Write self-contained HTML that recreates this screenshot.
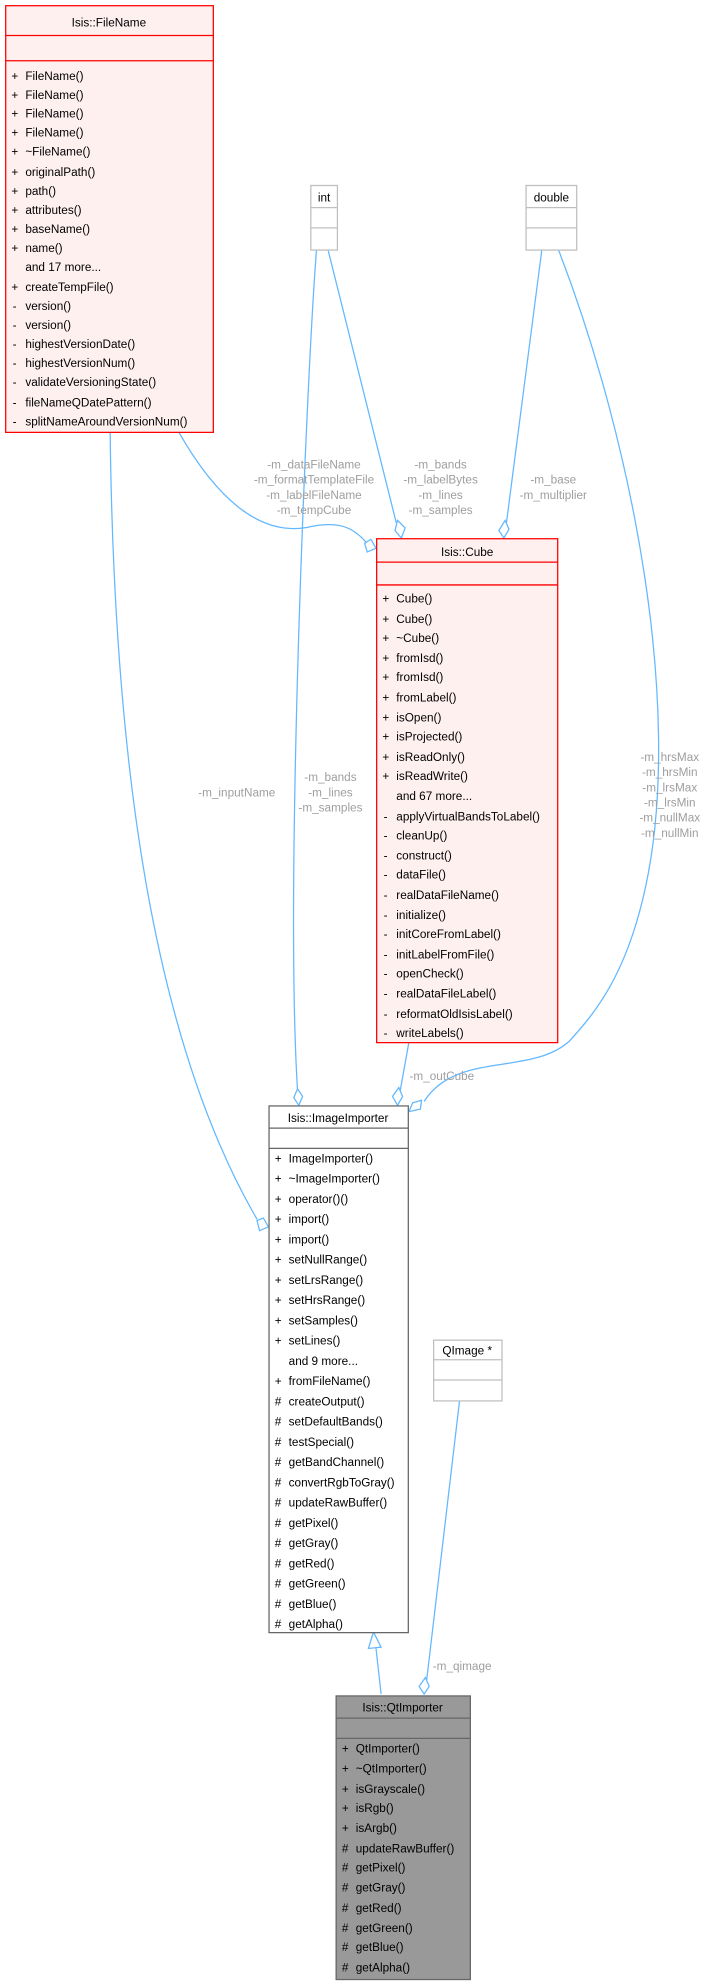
<!DOCTYPE html>
<html><head><meta charset="utf-8"><style>
html,body{margin:0;padding:0;background:#fff}
svg{display:block}
text{font-family:"Liberation Sans",sans-serif;font-size:9.3px;fill:#000}
.l{fill:#9e9e9e;text-anchor:middle}
.e{fill:none;stroke:#63b8ff;stroke-width:1}
.d{fill:#fff;stroke:#63b8ff;stroke-width:1}
</style></head><body>
<svg width="728" height="1986" viewBox="0 0 575 1568.6" xmlns="http://www.w3.org/2000/svg">
<!-- edges -->
<path class="e" d="M141,341 C170,392 205,425 245,416 C270,411 280,418 289,428"/>
<polygon class="d" points="297,433 290,436 288,429 293,426"/>
<path class="e" d="M259,197 L313,413"/>
<polygon class="d" points="317,425 312,419 314,411 320,417"/>
<path class="e" d="M250,197 C242,300 225,700 235,861"/>
<polygon class="d" points="236,873 232,867 235,860 239,866"/>
<path class="e" d="M428,197 L400,413"/>
<polygon class="d" points="398,425 394,419 399,411 402,418"/>
<path class="e" d="M441,197 C500,350 540,560 510,700 C495,770 470,800 450,822 C420,850 360,830 335,870"/>
<polygon class="d" points="323,878 326,871 333,869 332,876"/>
<path class="e" d="M87,341 C90,600 120,820 203,963"/>
<polygon class="d" points="212,969 205,972 203,964 208,962"/>
<path class="e" d="M323,823 L316,862"/>
<polygon class="d" points="314,873 310,866 315,859 318,866"/>
<path class="e" d="M301,1338 L297,1302"/>
<polygon points="295,1289 291,1302 301,1301" fill="#fff" stroke="#63b8ff"/>
<path class="e" d="M363,1106 L337,1327"/>
<polygon class="d" points="335,1338 331,1332 336,1325 339,1332"/>
<!-- labels -->
<text x="248" y="370" class="l">-m_dataFileName</text>
<text x="248" y="382" class="l">-m_formatTemplateFile</text>
<text x="248" y="394" class="l">-m_labelFileName</text>
<text x="248" y="406" class="l">-m_tempCube</text>
<text x="348" y="370" class="l">-m_bands</text>
<text x="348" y="382" class="l">-m_labelBytes</text>
<text x="348" y="394" class="l">-m_lines</text>
<text x="348" y="406" class="l">-m_samples</text>
<text x="437" y="382" class="l">-m_base</text>
<text x="437" y="394" class="l">-m_multiplier</text>
<text x="529" y="601" class="l">-m_hrsMax</text>
<text x="529" y="613" class="l">-m_hrsMin</text>
<text x="529" y="625" class="l">-m_lrsMax</text>
<text x="529" y="637" class="l">-m_lrsMin</text>
<text x="529" y="649" class="l">-m_nullMax</text>
<text x="529" y="661" class="l">-m_nullMin</text>
<text x="261" y="617" class="l">-m_bands</text>
<text x="261" y="629" class="l">-m_lines</text>
<text x="261" y="641" class="l">-m_samples</text>
<text x="187" y="629" class="l">-m_inputName</text>
<text x="349" y="853" class="l">-m_outCube</text>
<text x="365" y="1319" class="l">-m_qimage</text>
<!-- FileName -->
<rect x="4.5" y="4.5" width="164" height="337" fill="#fff0f0" stroke="#ff0000"/>
<line x1="4.5" y1="28" x2="168.5" y2="28" stroke="#ff0000"/>
<line x1="4.5" y1="48" x2="168.5" y2="48" stroke="#ff0000"/>
<text x="86" y="21" text-anchor="middle">Isis::FileName</text>
<text x="9" y="63">+</text><text x="20" y="63">FileName()</text>
<text x="9" y="78">+</text><text x="20" y="78">FileName()</text>
<text x="9" y="93">+</text><text x="20" y="93">FileName()</text>
<text x="9" y="108">+</text><text x="20" y="108">FileName()</text>
<text x="9" y="123">+</text><text x="20" y="123">~FileName()</text>
<text x="9" y="139">+</text><text x="20" y="139">originalPath()</text>
<text x="9" y="154">+</text><text x="20" y="154">path()</text>
<text x="9" y="169">+</text><text x="20" y="169">attributes()</text>
<text x="9" y="184">+</text><text x="20" y="184">baseName()</text>
<text x="9" y="199">+</text><text x="20" y="199">name()</text>
<text x="20" y="214">and 17 more...</text>
<text x="9" y="230">+</text><text x="20" y="230">createTempFile()</text>
<text x="10" y="245">-</text><text x="20" y="245">version()</text>
<text x="10" y="260">-</text><text x="20" y="260">version()</text>
<text x="10" y="275">-</text><text x="20" y="275">highestVersionDate()</text>
<text x="10" y="290">-</text><text x="20" y="290">highestVersionNum()</text>
<text x="10" y="305">-</text><text x="20" y="305">validateVersioningState()</text>
<text x="10" y="321">-</text><text x="20" y="321">fileNameQDatePattern()</text>
<text x="10" y="336">-</text><text x="20" y="336">splitNameAroundVersionNum()</text>
<!-- int / double -->
<rect x="245.5" y="146.5" width="21" height="51" fill="#fff" stroke="#bfbfbf"/>
<line x1="245.5" y1="164" x2="266.5" y2="164" stroke="#bfbfbf"/>
<line x1="245.5" y1="180" x2="266.5" y2="180" stroke="#bfbfbf"/>
<text x="256" y="159" text-anchor="middle">int</text>
<rect x="415.5" y="146.5" width="40" height="51" fill="#fff" stroke="#bfbfbf"/>
<line x1="415.5" y1="164" x2="455.5" y2="164" stroke="#bfbfbf"/>
<line x1="415.5" y1="180" x2="455.5" y2="180" stroke="#bfbfbf"/>
<text x="435.5" y="159" text-anchor="middle">double</text>
<!-- Cube -->
<rect x="297.5" y="425.5" width="143" height="398" fill="#fff0f0" stroke="#ff0000"/>
<line x1="297.5" y1="444" x2="440.5" y2="444" stroke="#ff0000"/>
<line x1="297.5" y1="462" x2="440.5" y2="462" stroke="#ff0000"/>
<text x="369" y="439" text-anchor="middle">Isis::Cube</text>
<text x="302" y="476">+</text><text x="313" y="476">Cube()</text>
<text x="302" y="492">+</text><text x="313" y="492">Cube()</text>
<text x="302" y="507">+</text><text x="313" y="507">~Cube()</text>
<text x="302" y="523">+</text><text x="313" y="523">fromIsd()</text>
<text x="302" y="538">+</text><text x="313" y="538">fromIsd()</text>
<text x="302" y="554">+</text><text x="313" y="554">fromLabel()</text>
<text x="302" y="570">+</text><text x="313" y="570">isOpen()</text>
<text x="302" y="585">+</text><text x="313" y="585">isProjected()</text>
<text x="302" y="601">+</text><text x="313" y="601">isReadOnly()</text>
<text x="302" y="616">+</text><text x="313" y="616">isReadWrite()</text>
<text x="313" y="632">and 67 more...</text>
<text x="303" y="648">-</text><text x="313" y="648">applyVirtualBandsToLabel()</text>
<text x="303" y="663">-</text><text x="313" y="663">cleanUp()</text>
<text x="303" y="679">-</text><text x="313" y="679">construct()</text>
<text x="303" y="694">-</text><text x="313" y="694">dataFile()</text>
<text x="303" y="710">-</text><text x="313" y="710">realDataFileName()</text>
<text x="303" y="726">-</text><text x="313" y="726">initialize()</text>
<text x="303" y="741">-</text><text x="313" y="741">initCoreFromLabel()</text>
<text x="303" y="757">-</text><text x="313" y="757">initLabelFromFile()</text>
<text x="303" y="772">-</text><text x="313" y="772">openCheck()</text>
<text x="303" y="788">-</text><text x="313" y="788">realDataFileLabel()</text>
<text x="303" y="804">-</text><text x="313" y="804">reformatOldIsisLabel()</text>
<text x="303" y="819">-</text><text x="313" y="819">writeLabels()</text>
<!-- ImageImporter -->
<rect x="212.5" y="873.5" width="110" height="416" fill="#fff" stroke="#666"/>
<line x1="212.5" y1="891" x2="322.5" y2="891" stroke="#666"/>
<line x1="212.5" y1="907" x2="322.5" y2="907" stroke="#666"/>
<text x="267" y="886" text-anchor="middle">Isis::ImageImporter</text>
<text x="217" y="918">+</text><text x="228" y="918">ImageImporter()</text>
<text x="217" y="934">+</text><text x="228" y="934">~ImageImporter()</text>
<text x="217" y="950">+</text><text x="228" y="950">operator()()</text>
<text x="217" y="966">+</text><text x="228" y="966">import()</text>
<text x="217" y="982">+</text><text x="228" y="982">import()</text>
<text x="217" y="998">+</text><text x="228" y="998">setNullRange()</text>
<text x="217" y="1014">+</text><text x="228" y="1014">setLrsRange()</text>
<text x="217" y="1030">+</text><text x="228" y="1030">setHrsRange()</text>
<text x="217" y="1046">+</text><text x="228" y="1046">setSamples()</text>
<text x="217" y="1062">+</text><text x="228" y="1062">setLines()</text>
<text x="228" y="1078">and 9 more...</text>
<text x="217" y="1094">+</text><text x="228" y="1094">fromFileName()</text>
<text x="217" y="1110">#</text><text x="228" y="1110">createOutput()</text>
<text x="217" y="1126">#</text><text x="228" y="1126">setDefaultBands()</text>
<text x="217" y="1142">#</text><text x="228" y="1142">testSpecial()</text>
<text x="217" y="1158">#</text><text x="228" y="1158">getBandChannel()</text>
<text x="217" y="1174">#</text><text x="228" y="1174">convertRgbToGray()</text>
<text x="217" y="1190">#</text><text x="228" y="1190">updateRawBuffer()</text>
<text x="217" y="1206">#</text><text x="228" y="1206">getPixel()</text>
<text x="217" y="1222">#</text><text x="228" y="1222">getGray()</text>
<text x="217" y="1238">#</text><text x="228" y="1238">getRed()</text>
<text x="217" y="1254">#</text><text x="228" y="1254">getGreen()</text>
<text x="217" y="1270">#</text><text x="228" y="1270">getBlue()</text>
<text x="217" y="1286">#</text><text x="228" y="1286">getAlpha()</text>
<!-- QImage -->
<rect x="342.5" y="1058.5" width="54" height="48" fill="#fff" stroke="#bfbfbf"/>
<line x1="342.5" y1="1074" x2="396.5" y2="1074" stroke="#bfbfbf"/>
<line x1="342.5" y1="1090" x2="396.5" y2="1090" stroke="#bfbfbf"/>
<text x="369" y="1070" text-anchor="middle">QImage *</text>
<!-- QtImporter -->
<rect x="265.5" y="1339.5" width="106" height="224" fill="#999" stroke="#666"/>
<line x1="265.5" y1="1357" x2="371.5" y2="1357" stroke="#666"/>
<line x1="265.5" y1="1373" x2="371.5" y2="1373" stroke="#666"/>
<text x="318" y="1352" text-anchor="middle">Isis::QtImporter</text>
<text x="270" y="1384">+</text><text x="281" y="1384">QtImporter()</text>
<text x="270" y="1400">+</text><text x="281" y="1400">~QtImporter()</text>
<text x="270" y="1416">+</text><text x="281" y="1416">isGrayscale()</text>
<text x="270" y="1431">+</text><text x="281" y="1431">isRgb()</text>
<text x="270" y="1447">+</text><text x="281" y="1447">isArgb()</text>
<text x="270" y="1463">#</text><text x="281" y="1463">updateRawBuffer()</text>
<text x="270" y="1478">#</text><text x="281" y="1478">getPixel()</text>
<text x="270" y="1494">#</text><text x="281" y="1494">getGray()</text>
<text x="270" y="1510">#</text><text x="281" y="1510">getRed()</text>
<text x="270" y="1526">#</text><text x="281" y="1526">getGreen()</text>
<text x="270" y="1541">#</text><text x="281" y="1541">getBlue()</text>
<text x="270" y="1557">#</text><text x="281" y="1557">getAlpha()</text>
</svg>
</body></html>
